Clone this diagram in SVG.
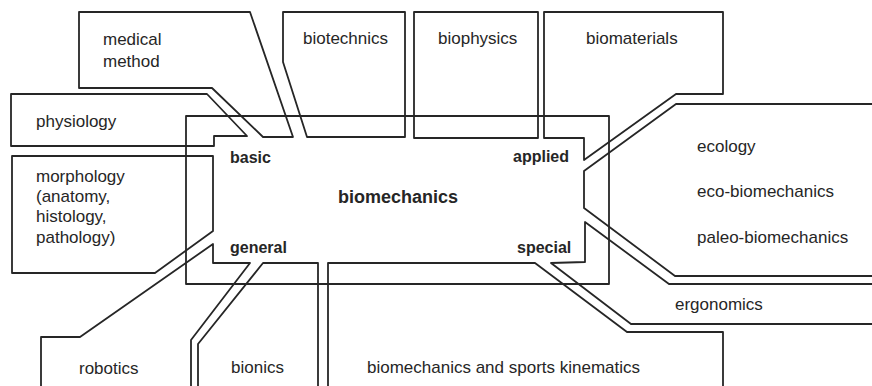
<svg xmlns="http://www.w3.org/2000/svg" width="872" height="386" viewBox="0 0 872 386">
<style>
.s{fill:none;stroke:#262626;stroke-width:1.8;stroke-linejoin:round}
.t{font-family:"Liberation Sans",Arial,sans-serif;font-size:17px;fill:#262626}
.b{font-family:"Liberation Sans",Arial,sans-serif;font-size:16px;font-weight:bold;fill:#262626}
</style>
<rect width="872" height="386" fill="#ffffff"/>
<g id="biomechanics">
<rect class="s" x="186" y="116" width="423" height="168"/>
<text class="b" x="398" y="203" text-anchor="middle" style="font-size:18px">biomechanics</text>
<text class="b" x="230" y="163">basic</text>
<text class="b" x="513" y="162">applied</text>
<text class="b" x="230" y="253">general</text>
<text class="b" x="517" y="253">special</text>
</g>
<g id="medical-method">
<polygon class="s" points="79,12 250,12 293,137 263,137 212,88 79,88"/>
<text class="t" x="103" y="45">medical</text>
<text class="t" x="103" y="67">method</text>
</g>
<g id="physiology">
<polygon class="s" points="11,94 207,94 247,136 214,136 214,146 11,146"/>
<text class="t" x="36" y="127">physiology</text>
</g>
<g id="biotechnics">
<polygon class="s" points="283,12 405,12 405,137 307,137 283,62"/>
<text class="t" x="303" y="44">biotechnics</text>
</g>
<g id="biophysics">
<polygon class="s" points="414,12 538,12 538,138 414,138"/>
<text class="t" x="438" y="44">biophysics</text>
</g>
<g id="biomaterials">
<polygon class="s" points="544,12 723,12 723,94 676,94 584,160 584,138 544,138"/>
<text class="t" x="586" y="44">biomaterials</text>
</g>
<g id="ecology">
<polyline class="s" points="880,104 676,104 584,171 584,208 675,276 880,276"/>
<text class="t" x="697" y="152">ecology</text>
<text class="t" x="697" y="197">eco-biomechanics</text>
<text class="t" x="697" y="243">paleo-biomechanics</text>
</g>
<g id="ergonomics">
<polyline class="s" points="880,284 669,284 585,222 585,262 551,263 631,324 880,324"/>
<text class="t" x="675" y="310">ergonomics</text>
</g>
<g id="sports-kinematics">
<polyline class="s" points="328,392 328,263 535,263 627,332 723,332 723,392"/>
<text class="t" x="367" y="373">biomechanics and sports kinematics</text>
</g>
<g id="bionics">
<polyline class="s" points="198,392 198,344 263,263 318,263 318,392"/>
<text class="t" x="231" y="373">bionics</text>
</g>
<g id="robotics">
<polyline class="s" points="41,392 41,337 80,337 213,244 213,263 250,263 191,340 191,392"/>
<text class="t" x="79" y="374">robotics</text>
</g>
<g id="morphology">
<polygon class="s" points="12,156 213,156 213,231 155,273 12,273"/>
<text class="t" x="36" y="182">morphology</text>
<text class="t" x="36" y="202">(anatomy,</text>
<text class="t" x="36" y="222">histology,</text>
<text class="t" x="36" y="243">pathology)</text>
</g>
<g id="connectors"></g>
</svg>
